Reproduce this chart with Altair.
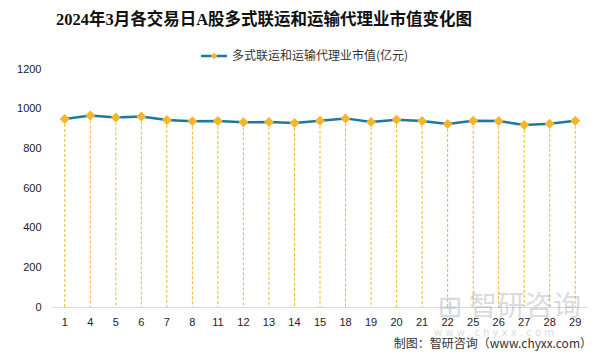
import altair as alt
import pandas as pd

# Trading days of March 2024 and market value (100 million yuan)
days = [1, 4, 5, 6, 7, 8, 11, 12, 13, 14, 15, 18, 19, 20, 21, 22, 25, 26, 27, 28, 29]
values = [948, 965, 956, 961, 943, 936, 938, 931, 933, 928, 939,
          951, 933, 944, 938, 923, 939, 938, 918, 924, 939]
y_ticks = [0, 200, 400, 600, 800, 1000, 1200]

title_text = "2024年3月各交易日A股多式联运和运输代理业市值变化图"
series_name = "多式联运和运输代理业市值(亿元)"
source_text = "制图：智研咨询（www.chyxx.com）"

CJK = "Noto Sans CJK SC"
LINE_COLOR = "#1b78a5"
GOLD = "#f5b627"

df = pd.DataFrame({"day": [str(d) for d in days], "value": values})
one = pd.DataFrame({"k": [0]})

x_enc = alt.X(
    "day:N", sort=None,
    scale=alt.Scale(paddingInner=0, paddingOuter=0),
    axis=alt.Axis(title=None, labelAngle=0, ticks=False, domainColor="#d9d9d9",
                  labelPadding=9, labelFontSize=11, labelColor="#222",
                  labelFont="Liberation Sans"),
)
y_enc = alt.Y(
    "value:Q",
    scale=alt.Scale(domain=[0, 1200]),
    axis=alt.Axis(title=None, values=y_ticks, format="d", grid=False, domain=False, ticks=False,
                  labelPadding=11, labelFontSize=11, labelColor="#222",
                  labelFont="Liberation Sans"),
)

base = alt.Chart(df)

drops = base.mark_rule(color=GOLD, strokeWidth=1, strokeDash=[3, 2]).encode(
    x=x_enc, y=y_enc, y2=alt.datum(0)
)
line = base.mark_line(color=LINE_COLOR, strokeWidth=2.5).encode(x=x_enc, y=y_enc)
points = base.mark_point(shape="diamond", filled=True, size=100, color=GOLD, opacity=1).encode(
    x=x_enc, y=y_enc
)

# Title (serif Latin digits, CJK fallback)
title = alt.Chart(one).mark_text(
    text=title_text, font="Liberation Serif, Noto Sans CJK SC", fontSize=16.5,
    fontWeight="bold", color="#111", align="center", baseline="middle"
).encode(x=alt.value(212), y=alt.value(-49))

# Legend
leg_line = alt.Chart(one).mark_rule(color=LINE_COLOR, strokeWidth=2.5).encode(
    x=alt.value(149), x2=alt.value(175), y=alt.value(-13)
)
leg_point = alt.Chart(one).mark_point(shape="diamond", filled=True, size=45, color=GOLD, opacity=1).encode(
    x=alt.value(162), y=alt.value(-13)
)
leg_text = alt.Chart(one).mark_text(
    text=series_name, font=CJK, fontSize=12, color="#333", align="left", baseline="middle"
).encode(x=alt.value(180), y=alt.value(-13))

# Watermark
wm_icon = alt.Chart(one).mark_text(
    text="⊞", font="DejaVu Sans", fontSize=30, color="#aab8c8", opacity=0.5,
    align="center", baseline="middle"
).encode(x=alt.value(398), y=alt.value(239))
wm_text = alt.Chart(one).mark_text(
    text="智研咨询", font=CJK, fontSize=28, color="#9a9a9a", opacity=0.35,
    align="left", baseline="middle"
).encode(x=alt.value(417), y=alt.value(239))
wm_url = alt.Chart(one).mark_text(
    text="w w w . c h y x x . c o m", font="DejaVu Sans", fontSize=10, color="#9a9a9a",
    opacity=0.35, align="left", baseline="middle"
).encode(x=alt.value(382), y=alt.value(264))

# Source note
source = alt.Chart(one).mark_text(
    text=source_text, font=CJK, fontSize=12, color="#333", align="right", baseline="middle"
).encode(x=alt.value(540), y=alt.value(275))

chart = alt.layer(
    drops, line, points, title, leg_line, leg_point, leg_text,
    wm_icon, wm_text, wm_url, source
).properties(
    width=536, height=238,
    autosize=alt.AutoSizeParams(type="none"),
    padding={"left": 52, "top": 69, "right": 16, "bottom": 49},
    background="white",
).configure_view(stroke=None)

chart.save("out.html", embed_options={"renderer": "svg", "actions": False})
